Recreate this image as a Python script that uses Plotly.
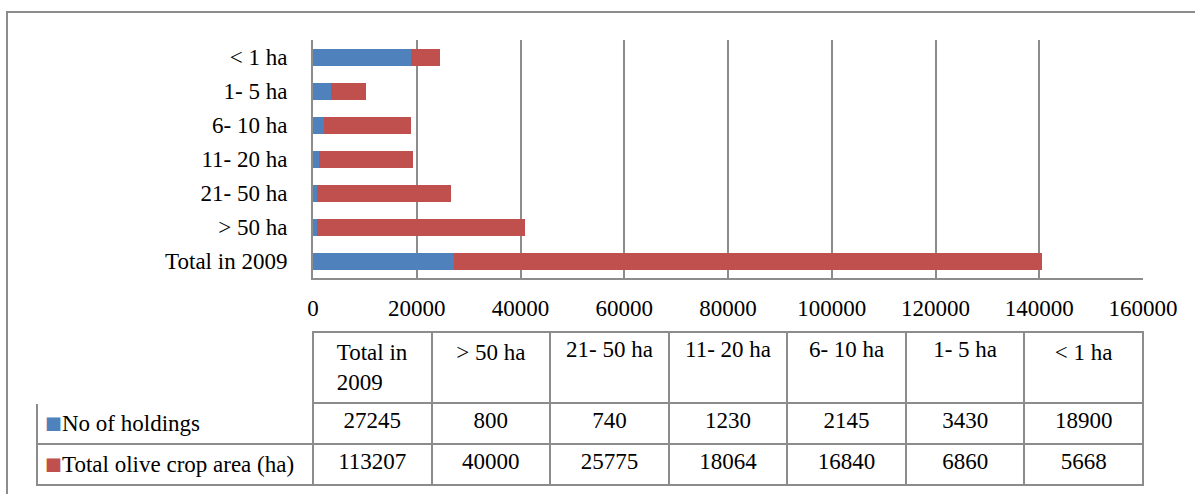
import plotly.graph_objects as go

categories = ["Total in 2009", "> 50 ha", "21- 50 ha", "11- 20 ha", "6- 10 ha", "1- 5 ha", "< 1 ha"]
header_labels = ["Total in<br>2009", "> 50 ha", "21- 50 ha", "11- 20 ha", "6- 10 ha", "1- 5 ha", "< 1 ha"]
holdings = [27245, 800, 740, 1230, 2145, 3430, 18900]
area = [113207, 40000, 25775, 18064, 16840, 6860, 5668]
series_names = ["No of holdings", "Total olive crop area (ha)"]
colors = ["#4F81BD", "#C0504D"]

FONT = "Liberation Serif"
FS = 23
TFS = 23
GRID = "#8C8C8C"

W, H = 1195, 494
ML, MR, MT, MB = 37, 52, 40, 0
PW = W - ML - MR
PH = H - MT - MB

def px_x(x):
    return (x - ML) / PW

def px_y(y):
    return (H - MB - y) / PH

fig = go.Figure()
fig.add_trace(go.Bar(y=categories, x=holdings, orientation="h", name=series_names[0],
                     marker=dict(color=colors[0], line=dict(width=0)), showlegend=False))
fig.add_trace(go.Bar(y=categories, x=area, orientation="h", name=series_names[1],
                     marker=dict(color=colors[1], line=dict(width=0)), showlegend=False))

# a <br> makes plotly's table parse the markup instead of word-wrapping it
legend_cells = [
    f"<span style=\"color:{c};font-family:'Noto Sans CJK SC';font-size:17px\">■</span>{n}<br>"
    for c, n in zip(colors, series_names)
]
columns = [legend_cells] + [[str(h), str(a)] for h, a in zip(holdings, area)]
col_widths = [313 - ML] + [(1143 - 313) / 7] * 7

fig.add_trace(go.Table(
    domain=dict(x=[0, 1], y=[0, px_y(332)]),
    columnwidth=col_widths,
    header=dict(values=[""] + header_labels,
                height=55,
                fill=dict(color="white"),
                line=dict(color=["white"] + [GRID] * 7, width=2),
                align="center",
                font=dict(family=FONT, size=TFS, color="black")),
    cells=dict(values=columns,
               height=36,
               fill=dict(color="white"),
               line=dict(color=GRID, width=2),
               align=["left"] + ["center"] * 7,
               font=dict(family=FONT, size=TFS, color="black")),
))

fig.update_layout(
    barmode="stack",
    bargap=0.5,
    width=W, height=H,
    margin=dict(l=ML, r=MR, t=MT, b=MB),
    paper_bgcolor="white",
    plot_bgcolor="white",
    font=dict(family=FONT, size=FS, color="black"),
    xaxis=dict(domain=[px_x(313), 1], range=[0, 160000], dtick=20000,
               showgrid=True, gridcolor=GRID, gridwidth=2,
               showline=True, linecolor=GRID, linewidth=2,
               ticks="outside", ticklen=8, tickcolor="rgba(0,0,0,0)",
               zeroline=False, tickformat="d"),
    yaxis=dict(domain=[px_y(278), 1], showline=True, linecolor=GRID, linewidth=2,
               showgrid=False, ticks="", ticklabelstandoff=19),
    shapes=[dict(type="rect", xref="paper", yref="paper",
                 x0=px_x(7), x1=px_x(1260), y0=px_y(600), y1=px_y(12),
                 line=dict(color=GRID, width=2), fillcolor="rgba(0,0,0,0)", layer="below")],
)

fig.write_html("out.html")
